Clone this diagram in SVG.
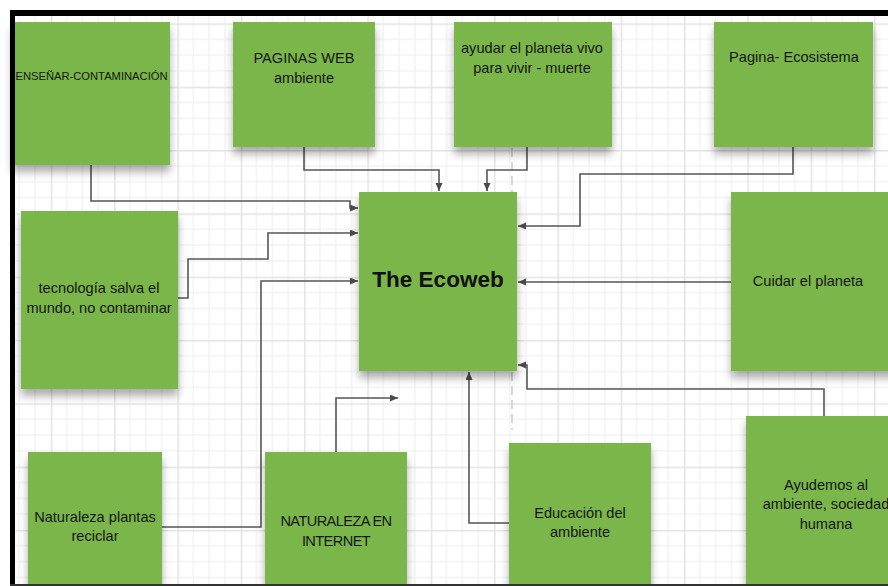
<svg xmlns="http://www.w3.org/2000/svg" width="888" height="586" viewBox="0 0 888 586">
  <defs>
    <pattern id="grid" patternUnits="userSpaceOnUse" x="50.8" y="23.4" width="63.32" height="63.32">
      <path d="M15.83 0V63.32M31.66 0V63.32M47.49 0V63.32M0 15.83H63.32M0 31.66H63.32M0 47.49H63.32" stroke="#eeeeee" stroke-width="1" fill="none"/>
      <path d="M0.75 0V63.32M0 0.75H63.32" stroke="#e3e3e3" stroke-width="1.5" fill="none"/>
    </pattern>
    <filter id="shadow" x="-20%" y="-20%" width="140%" height="150%">
      <feDropShadow dx="0" dy="7" stdDeviation="4.5" flood-color="#000" flood-opacity="0.32"/>
    </filter>
    <marker id="arrow" markerUnits="userSpaceOnUse" markerWidth="9" markerHeight="8" refX="8" refY="3.5" orient="auto">
      <path d="M0 0L8 3.5L0 7Z" fill="#4a4a4a"/>
    </marker>
  </defs>
  <style>
    .node rect { fill: #7ab648; filter: url(#shadow); }
    .node text { font-family: "Liberation Sans", Arial, sans-serif; font-size: 14.6px; fill: #151515; text-anchor: middle; }
    .conn path { fill: none; stroke: #555; stroke-width: 1.6; }
    .conn .head { marker-end: url(#arrow); }
  </style>

  <!-- canvas -->
  <rect x="0" y="0" width="888" height="586" fill="#fff"/>
  <rect x="15" y="16" width="873" height="568" fill="url(#grid)"/>
  <line x1="512" y1="148" x2="512" y2="430" stroke="#d6d6d6" stroke-width="2" stroke-dasharray="9 5"/>

  <!-- connectors -->
  <g id="connectors" class="conn">
    <path class="head" d="M91 165V201H350V208H358"/>
    <path class="head" d="M178 298H188V259H268V233H358"/>
    <path class="head" d="M162 527H261V281H358"/>
    <path class="head" d="M336 452V398H398"/>
    <path class="head" d="M509 523H469V372"/>
    <path class="head" d="M824 416V389H527V365H518"/>
    <path class="head" d="M731 282H518"/>
    <path class="head" d="M793 147V174H580V226H518"/>
    <path class="head" d="M304 147V170H439V191"/>
    <path class="head" d="M527 147V170H487V191"/>
  </g>

  <!-- nodes -->
  <g id="ensenar" class="node">
    <rect x="12" y="22" width="158" height="143"/>
    <text x="91.5" y="80" style="font-size:11.2px">ENSEÑAR-CONTAMINACIÓN</text>
  </g>
  <g id="paginas-web" class="node">
    <rect x="233" y="22" width="142" height="125"/>
    <text x="304" y="63">PAGINAS WEB</text>
    <text x="304" y="83">ambiente</text>
  </g>
  <g id="ayudar-planeta" class="node">
    <rect x="454" y="22" width="158" height="125"/>
    <text x="532" y="53">ayudar el planeta vivo</text>
    <text x="532" y="73">para vivir - muerte</text>
  </g>
  <g id="pagina-ecosistema" class="node">
    <rect x="714" y="22" width="159" height="125"/>
    <text x="794" y="62">Pagina- Ecosistema</text>
  </g>
  <g id="tecnologia" class="node">
    <rect x="21" y="211" width="157" height="178"/>
    <text x="99" y="293">tecnología salva el</text>
    <text x="99" y="313">mundo, no contaminar</text>
  </g>
  <g id="ecoweb" class="node">
    <rect x="359" y="192" width="158" height="179"/>
    <text x="438" y="287" style="font-size:22.5px;font-weight:bold;fill:#111">The Ecoweb</text>
  </g>
  <g id="cuidar-planeta" class="node">
    <rect x="731" y="192" width="170" height="179"/>
    <text x="808" y="286">Cuidar el planeta</text>
  </g>
  <g id="naturaleza-plantas" class="node">
    <rect x="28" y="452" width="134" height="150"/>
    <text x="95" y="522">Naturaleza plantas</text>
    <text x="95" y="541">reciclar</text>
  </g>
  <g id="naturaleza-internet" class="node">
    <rect x="265" y="452" width="142" height="150"/>
    <text x="336" y="526" style="letter-spacing:-0.6px">NATURALEZA EN</text>
    <text x="336" y="546" style="letter-spacing:-0.6px">INTERNET</text>
  </g>
  <g id="educacion" class="node">
    <rect x="509" y="443" width="142" height="160"/>
    <text x="580" y="518">Educación del</text>
    <text x="580" y="537">ambiente</text>
  </g>
  <g id="ayudemos" class="node">
    <rect x="746" y="416" width="160" height="190"/>
    <text x="826" y="490">Ayudemos al</text>
    <text x="826" y="509">ambiente, sociedad</text>
    <text x="826" y="529">humana</text>
  </g>

  <!-- frame -->
  <rect x="10" y="10" width="878" height="6" fill="#000"/>
  <rect x="10" y="10" width="5" height="576" fill="#000"/>
  <rect x="10" y="584" width="878" height="2" fill="#333"/>
</svg>
